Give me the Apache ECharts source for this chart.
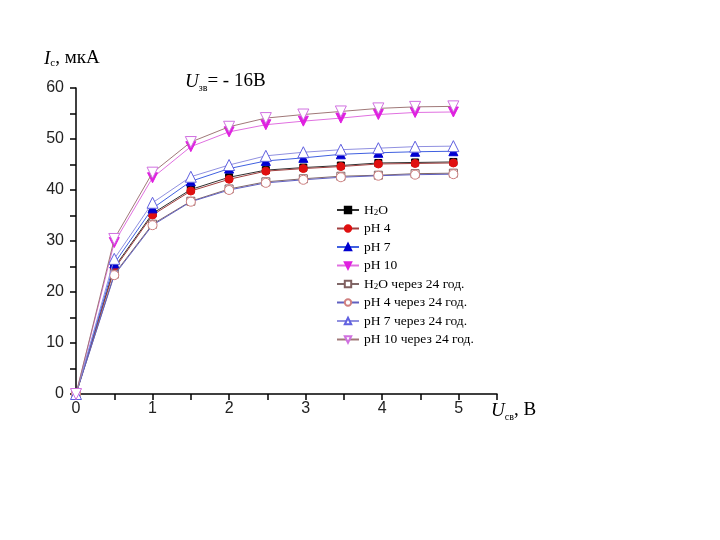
<!DOCTYPE html>
<html><head><meta charset="utf-8">
<script src="https://cdn.jsdelivr.net/npm/echarts@6/dist/echarts.min.js"></script>
<style>html,body{margin:0;padding:0;background:#fff}#c{width:720px;height:540px}</style>
</head><body><div id="c"></div>
<script>
var xValues = [0, 0.5, 1, 1.5, 2, 2.48, 2.97, 3.46, 3.95, 4.43, 4.93];
var seriesNames = ['H2O', 'pH 4', 'pH 7', 'pH 10', 'H2O через 24 год.', 'pH 4 через 24 год.', 'pH 7 через 24 год.', 'pH 10 через 24 год.'];
var h2o      = [0, 24.8, 35.4, 40.1, 42.5, 43.9, 44.4, 44.8, 45.3, 45.4, 45.5];
var ph4      = [0, 24.5, 35.1, 39.8, 42.1, 43.7, 44.2, 44.6, 45.1, 45.2, 45.3];
var ph7      = [0, 25.6, 36.4, 41.7, 44.2, 45.7, 46.3, 47.0, 47.3, 47.5, 47.6];
var ph10     = [0, 29.7, 42.4, 48.5, 51.4, 52.8, 53.5, 54.1, 54.8, 55.2, 55.3];
var h2o24    = [0, 23.5, 33.3, 37.8, 40.2, 41.6, 42.2, 42.7, 42.9, 43.2, 43.3];
var ph4_24   = [0, 23.3, 33.1, 37.7, 40.0, 41.4, 42.0, 42.5, 42.8, 43.0, 43.1];
var ph7_24   = [0, 26.5, 37.5, 42.6, 44.9, 46.7, 47.4, 47.9, 48.2, 48.5, 48.6];
var ph10_24  = [0, 30.4, 43.4, 49.4, 52.4, 54.1, 54.8, 55.4, 56.0, 56.3, 56.4];
var xTicks = [0, 1, 2, 3, 4, 5];
var yTicks = [0, 10, 20, 30, 40, 50, 60];

var allData = [h2o, ph4, ph7, ph10, h2o24, ph4_24, ph7_24, ph10_24];
var styles = [
  {symbol:'rect', fill:'#000000', border:'#000000', line:'#303030', rot:0, size:7},
  {symbol:'circle', fill:'#e01010', border:'#e01010', line:'#a04040', rot:0, size:8},
  {symbol:'triangle', fill:'#0000d0', border:'#0000d0', line:'#4060e0', rot:0, size:9},
  {symbol:'triangle', fill:'#e020e0', border:'#e020e0', line:'#e070e0', rot:180, size:10},
  {symbol:'rect', fill:'#ffffff', border:'#806060', line:'#806868', rot:0, size:8},
  {symbol:'circle', fill:'#ffffff', border:'#d08080', line:'#6060c0', rot:0, size:9},
  {symbol:'triangle', fill:'#ffffff', border:'#6060e0', line:'#9090e0', rot:0, size:11},
  {symbol:'triangle', fill:'#ffffff', border:'#d070e0', line:'#a07878', rot:180, size:11}
];

function pairs(arr){ return xValues.map(function(x,i){ return [x, arr[i]]; }); }

var series = seriesNames.map(function(n, k){
  var s = styles[k];
  return {
    name: n, type: 'line', data: pairs(allData[k]),
    symbol: s.symbol, symbolSize: s.size, symbolRotate: s.rot, showAllSymbol: true,
    lineStyle: {color: s.line, width: 1},
    itemStyle: {color: s.fill, borderColor: s.border, borderWidth: 1},
    z: 2 + k, animation: false
  };
});

var chart = echarts.init(document.getElementById('c'));
chart.setOption({
  animation: false,
  backgroundColor: '#ffffff',
  grid: {left: 76, top: 88, width: 421, height: 306, containLabel: false},
  xAxis: {
    type: 'value', min: 0, max: 5.5, interval: 1,
    axisLine: {onZero: false, lineStyle: {color: '#000', width: 1.5}},
    axisTick: {length: 6, lineStyle: {color: '#000', width: 1.5}},
    minorTick: {show: true, splitNumber: 2, length: 6, lineStyle: {color: '#000', width: 1.5}},
    splitLine: {show: false},
    axisLabel: {fontFamily: 'Liberation Sans', fontSize: 16, color: '#222', margin: 7,
      formatter: function(v){ return xTicks.indexOf(v) >= 0 ? String(v) : ''; }}
  },
  yAxis: {
    type: 'value', min: 0, max: 60, interval: 10,
    axisLine: {show: true, onZero: false, lineStyle: {color: '#000', width: 1.5}},
    axisTick: {show: true, length: 6, lineStyle: {color: '#000', width: 1.5}},
    minorTick: {show: true, splitNumber: 2, length: 6, lineStyle: {color: '#000', width: 1.5}},
    splitLine: {show: false},
    axisLabel: {fontFamily: 'Liberation Sans', fontSize: 16, color: '#222', margin: 12,
      formatter: function(v){ return yTicks.indexOf(v) >= 0 ? String(v) : ''; }}
  },
  legend: {
    orient: 'vertical', left: 331, top: 198, itemGap: 4.5, itemWidth: 22, itemHeight: 8,
    data: seriesNames,
    formatter: function(n){
      if (n.indexOf('H2O') === 0) return '{a|H}{s|2}{a|O' + n.slice(3) + '}';
      return '{a|' + n + '}';
    },
    textStyle: {fontFamily: 'Liberation Serif', fontSize: 13.5, color: '#000', lineHeight: 14,
      rich: {
        a: {fontFamily: 'Liberation Serif', fontSize: 13.5, color: '#000', lineHeight: 14},
        s: {fontFamily: 'Liberation Serif', fontSize: 9, color: '#000', lineHeight: 14, verticalAlign: 'bottom', padding: [3,0,0,0]}
      }}
  },
  graphic: [
    {type: 'text', left: 44, top: 49, style: {
      text: '{i|I}{s|с}{n|, мкА}',
      rich: {
        i: {fontFamily: 'Liberation Serif', fontStyle: 'italic', fontSize: 19, fill: '#000'},
        s: {fontFamily: 'Liberation Serif', fontSize: 11, fill: '#000', padding: [10,0,0,0]},
        n: {fontFamily: 'Liberation Serif', fontSize: 19, fill: '#000'}
      }}},
    {type: 'text', left: 185, top: 72, style: {
      text: '{i|U}{s|зв}{n|= - 16В}',
      rich: {
        i: {fontFamily: 'Liberation Serif', fontStyle: 'italic', fontSize: 19, fill: '#000'},
        s: {fontFamily: 'Liberation Serif', fontSize: 10, fill: '#000', padding: [14,0,0,0]},
        n: {fontFamily: 'Liberation Serif', fontSize: 19, fill: '#000'}
      }}},
    {type: 'text', left: 491, top: 401, style: {
      text: '{i|U}{s|св}{n|, В}',
      rich: {
        i: {fontFamily: 'Liberation Serif', fontStyle: 'italic', fontSize: 19, fill: '#000'},
        s: {fontFamily: 'Liberation Serif', fontSize: 10, fill: '#000', padding: [14,0,0,0]},
        n: {fontFamily: 'Liberation Serif', fontSize: 19, fill: '#000'}
      }}}
  ],
  series: series
});
</script>
</body></html>
